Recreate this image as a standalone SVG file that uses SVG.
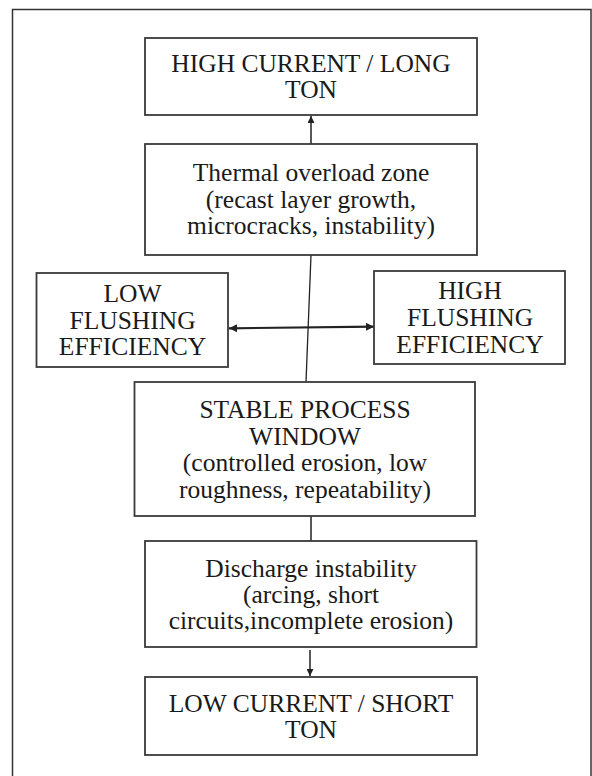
<svg xmlns="http://www.w3.org/2000/svg" width="592" height="776" viewBox="0 0 592 776">
<style>
.box{fill:#fff;stroke:#3a3a3a;stroke-width:1.8}
.t{font-family:"Liberation Serif","Times New Roman",serif;font-size:25.5px;fill:#1a1a1a;text-anchor:middle}
.c{stroke:#222;fill:none}
</style>
<defs>
<marker id="ah" viewBox="0 0 10 10" refX="10" refY="5" markerWidth="7" markerHeight="7" markerUnits="userSpaceOnUse" orient="auto-start-reverse">
<path d="M0,0 L10,5 L0,10 Z" fill="#222"/>
</marker>
<marker id="ah2" viewBox="0 0 10 10" refX="10" refY="5" markerWidth="10" markerHeight="8" markerUnits="userSpaceOnUse" orient="auto-start-reverse">
<path d="M0,0 L10,5 L0,10 Z" fill="#222"/>
</marker>
</defs>
<rect x="0" y="0" width="592" height="776" fill="#fff"/>
<rect x="12.5" y="9.5" width="578.5" height="800" fill="none" stroke="#333" stroke-width="1.5"/>
<g id="connectors">
<line class="c" x1="311" y1="144" x2="311" y2="116" stroke-width="1.5" marker-end="url(#ah)"/>
<line class="c" x1="311" y1="255" x2="306" y2="382" stroke-width="1.3"/>
<line class="c" x1="229" y1="328.3" x2="374" y2="326.7" stroke-width="2.2" marker-start="url(#ah2)" marker-end="url(#ah2)"/>
<line class="c" x1="311" y1="516" x2="311" y2="541" stroke-width="1.5"/>
<line class="c" x1="310" y1="650" x2="310" y2="676" stroke-width="1.5" marker-end="url(#ah)"/>
</g>
<g id="high-current">
<rect class="box" x="145" y="38" width="332" height="77"/>
<text class="t" x="311" y="72">HIGH CURRENT / LONG</text>
<text class="t" x="311" y="97.5">TON</text>
</g>
<g id="thermal">
<rect class="box" x="145" y="144" width="332" height="111"/>
<text class="t" x="311" y="181">Thermal overload zone</text>
<text class="t" x="311" y="207.5">(recast layer growth,</text>
<text class="t" x="311" y="234">microcracks, instability)</text>
</g>
<g id="low-flushing">
<rect class="box" x="36.5" y="273" width="191.5" height="94"/>
<text class="t" x="132.5" y="302">LOW</text>
<text class="t" x="132.5" y="328.5">FLUSHING</text>
<text class="t" x="132.5" y="355">EFFICIENCY</text>
</g>
<g id="high-flushing">
<rect class="box" x="374" y="271" width="191" height="93"/>
<text class="t" x="470" y="299">HIGH</text>
<text class="t" x="470" y="326">FLUSHING</text>
<text class="t" x="470" y="353">EFFICIENCY</text>
</g>
<g id="stable">
<rect class="box" x="134.5" y="382" width="340.5" height="134"/>
<text class="t" x="305" y="418">STABLE PROCESS</text>
<text class="t" x="305" y="444.5">WINDOW</text>
<text class="t" x="305" y="471">(controlled erosion, low</text>
<text class="t" x="305" y="497.5">roughness, repeatability)</text>
</g>
<g id="discharge">
<rect class="box" x="145" y="541" width="331.5" height="106"/>
<text class="t" x="311" y="577">Discharge instability</text>
<text class="t" x="311" y="603">(arcing, short</text>
<text class="t" x="311" y="629">circuits,incomplete erosion)</text>
</g>
<g id="low-current">
<rect class="box" x="145" y="677" width="332" height="78"/>
<text class="t" x="311" y="712">LOW CURRENT / SHORT</text>
<text class="t" x="311" y="738">TON</text>
</g>
</svg>
